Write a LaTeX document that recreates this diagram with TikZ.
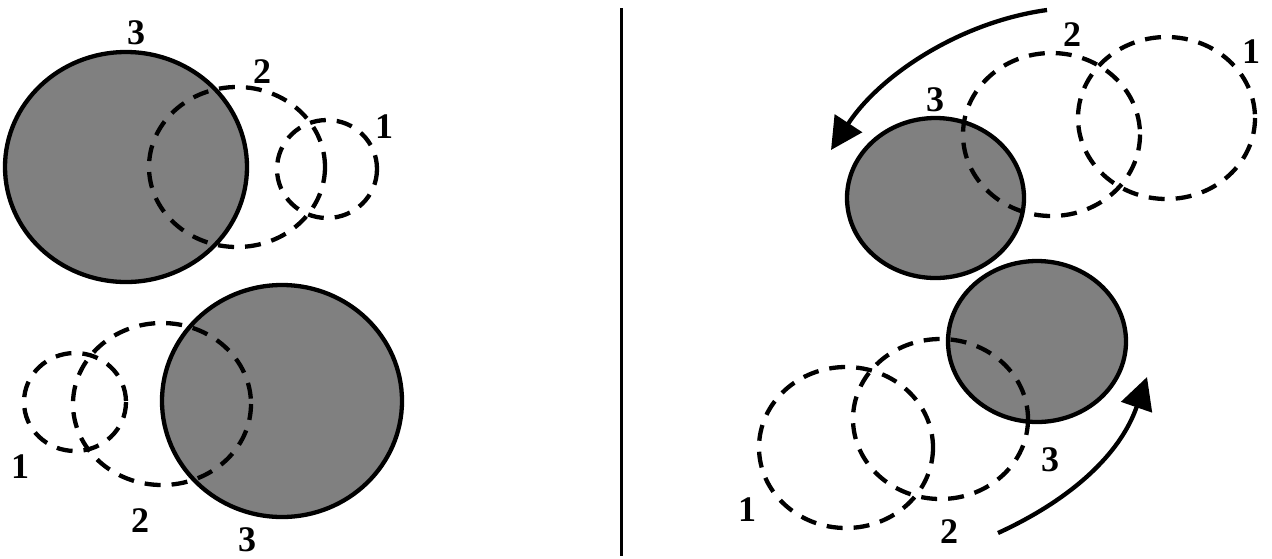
\documentclass[tikz,border=0pt]{standalone}
\usepackage{fontspec}
\setmainfont{Liberation Serif}
\usetikzlibrary{arrows.meta}
\definecolor{shade}{HTML}{808080}
\tikzset{
  solidc/.style={draw=black, line width=4.3pt, fill=shade},
  dashc/.style={draw=black, line width=4.3pt, dash pattern=on 16pt off 11pt},
  lbl/.style={inner sep=0pt, font=\fontsize{36}{36}\selectfont\bfseries},
  movearrow/.style={line width=4.3pt, -{Triangle[length=32pt,width=32pt]}}
}
\begin{document}
\begin{tikzpicture}[x=1pt,y=-1pt]
\useasboundingbox (0,0) rectangle (1272,558);
% left top
\draw[solidc] (126,167) ellipse [x radius=121, y radius=115];
\draw[dashc] (237,167) ellipse [x radius=88, y radius=80];
\draw[dashc] (327,169) ellipse [x radius=50, y radius=49];
\node[lbl] (lt3) at (136,33) {3};
\node[lbl] (lt2) at (262,72) {2};
\node[lbl] (lt1) at (384,127) {1};
% left bottom
\draw[solidc] (282,401) ellipse [x radius=120, y radius=116];
\draw[dashc] (162,404) ellipse [x radius=89, y radius=81];
\draw[dashc] (75,402) ellipse [x radius=51, y radius=49];
\node[lbl] (lb1) at (20,467) {1};
\node[lbl] (lb2) at (140,521) {2};
\node[lbl] (lb3) at (247,540) {3};
% divider
\coordinate (dtop) at (621,8);
\coordinate (dbot) at (621,556);
\draw[line width=3pt] (dtop) -- (dbot);
% right top
\draw[solidc] (935.5,198) ellipse [x radius=88.5, y radius=80];
\draw[dashc] (1051.5,134.5) ellipse [x radius=88.5, y radius=81.5];
\draw[dashc] (1166.5,118) ellipse [x radius=88.5, y radius=81];
\node[lbl] (rt3) at (935,100) {3};
\node[lbl] (rt2) at (1072,35) {2};
\node[lbl] (rt1) at (1251,52) {1};
\coordinate (ta1) at (1047,10);
\coordinate (ta2) at (831,150);
\draw[movearrow] (ta1) .. controls (960,22) and (880,75) .. (ta2);
% right bottom
\draw[solidc] (1037,341.5) ellipse [x radius=89, y radius=80.5];
\draw[dashc] (940.5,419) ellipse [x radius=87.5, y radius=80];
\draw[dashc] (846,447.5) ellipse [x radius=87, y radius=80.5];
\node[lbl] (rb3) at (1050,460) {3};
\node[lbl] (rb2) at (949,532) {2};
\node[lbl] (rb1) at (747,510) {1};
\coordinate (ba1) at (998,533);
\coordinate (ba2) at (1147,377);
\draw[movearrow] (ba1) .. controls (1070,500) and (1120,455) .. (ba2);
\end{tikzpicture}
\end{document}
